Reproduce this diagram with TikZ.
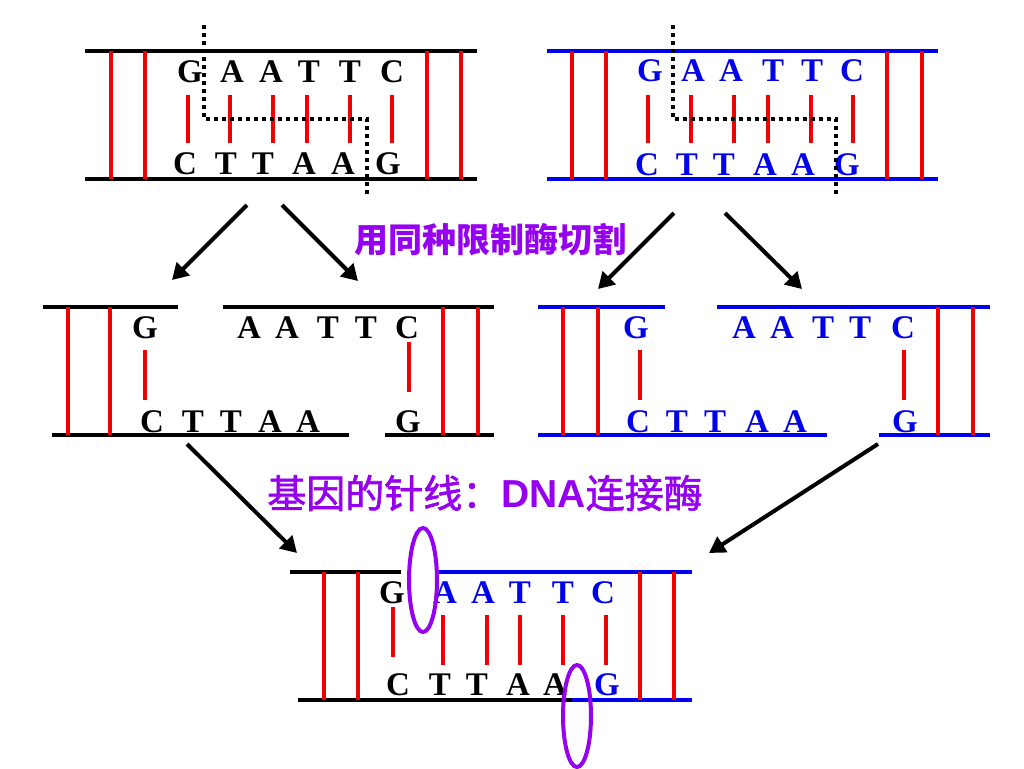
\documentclass[tikz,border=0pt]{standalone}
\usepackage{fontspec}
\setmainfont{Liberation Serif}
\newfontfamily\cjk{Noto Sans CJK SC}
\newfontfamily\cjkmed{Noto Sans CJK SC}[FakeBold=1.6]
\newfontfamily\arialf{Liberation Sans}
\usetikzlibrary{arrows.meta}
\definecolor{dnared}{RGB}{238,0,0}
\definecolor{dnablue}{RGB}{0,0,235}
\definecolor{lblpurple}{RGB}{150,0,240}
\tikzset{
  strand/.style={line width=2pt},
  rung/.style={dnared, line width=2pt},
  basech/.style={font=\fontsize{16.5}{17}\selectfont\bfseries, inner sep=0pt},
  cutline/.style={line width=2pt, dash pattern=on 2pt off 2pt},
  arr/.style={line width=2pt, -{Triangle[length=8pt,width=9pt]}},
  lig/.style={lblpurple, line width=2pt},
  lbl/.style={text=lblpurple, inner sep=0pt},
}
\begin{document}
\begin{tikzpicture}[x=0.5pt,y=-0.5pt]
\useasboundingbox (0,0) rectangle (1024,768);

% ---------- Block 1 (black, top left) ----------
\draw[strand] (85,51) -- (477,51);
\draw[strand] (85,179) -- (477,179);
\foreach \x in {111,145,427,461} \draw[rung] (\x,51) -- (\x,179);
\foreach \x in {188,230,273,307,350,392} \draw[rung] (\x,95) -- (\x,143);
\foreach \x/\l [count=\i] in {190/G,232/A,271/A,309/T,350/T,392/C}
  \node[basech] (bA\i) at (\x,72) {\l};
\foreach \x/\l [count=\i] in {185/C,226/T,263/T,304/A,343/A,388/G}
  \node[basech] (bB\i) at (\x,164) {\l};
\draw[cutline] (204,25) -- (204,119) -- (367,119) -- (367,195);

% ---------- Block 2 (blue, top right) ----------
\draw[strand,dnablue] (547,51) -- (938,51);
\draw[strand,dnablue] (547,179) -- (938,179);
\foreach \x in {572,606,887,922} \draw[rung] (\x,51) -- (\x,179);
\foreach \x in {648,691,734,768,811,853} \draw[rung] (\x,95) -- (\x,143);
\foreach \x/\l [count=\i] in {650/G,693/A,731/A,773/T,812/T,852/C}
  \node[basech,text=dnablue] (cA\i) at (\x,71) {\l};
\foreach \x/\l [count=\i] in {647/C,687/T,724/T,765/A,803/A,847/G}
  \node[basech,text=dnablue] (cB\i) at (\x,165) {\l};
\draw[cutline] (673,25) -- (673,119) -- (836,119) -- (836,195);

% ---------- label 1 ----------
\node[lbl,font=\cjk\bfseries\fontsize{17}{18}\selectfont] (cutlabel) at (490,240) {用同种限制酶切割};

% ---------- Block 3 (black, cut) ----------
\draw[strand] (43,307) -- (178,307);
\draw[strand] (223,307) -- (494,307);
\draw[strand] (52,435) -- (349,435);
\draw[strand] (385,435) -- (494,435);
\foreach \x in {68,110,443,478} \draw[rung] (\x,307) -- (\x,435);
\draw[rung] (145,350) -- (145,400);
\draw[rung] (409,342) -- (409,392);
\foreach \x/\l [count=\i] in {145/G,249/A,287/A,328/T,366/T,407/C}
  \node[basech] (dA\i) at (\x,328) {\l};
\foreach \x/\l [count=\i] in {152/C,193/T,231/T,270/A,308/A,408/G}
  \node[basech] (dB\i) at (\x,422) {\l};

% ---------- Block 4 (blue, cut) ----------
\draw[strand,dnablue] (538,307) -- (665,307);
\draw[strand,dnablue] (717,307) -- (990,307);
\draw[strand,dnablue] (538,435) -- (827,435);
\draw[strand,dnablue] (879,435) -- (990,435);
\foreach \x in {563,598,938,973} \draw[rung] (\x,307) -- (\x,435);
\draw[rung] (640,350) -- (640,400);
\draw[rung] (904,350) -- (904,400);
\foreach \x/\l [count=\i] in {636/G,744/A,782/A,823/T,860/T,903/C}
  \node[basech,text=dnablue] (eA\i) at (\x,328) {\l};
\foreach \x/\l [count=\i] in {638/C,677/T,715/T,757/A,795/A,905/G}
  \node[basech,text=dnablue] (eB\i) at (\x,422) {\l};

% ---------- label 2 ----------
\node[lbl,font=\fontsize{19.5}{20}\selectfont] (liglabel) at (485,493)
  {{\cjkmed 基因的针线：}{\arialf\bfseries DNA}{\cjkmed 连接酶}};

% ---------- Block 5 (joined) ----------
\draw[strand] (290,572) -- (401,572);
\draw[strand,dnablue] (437,572) -- (692,572);
\draw[strand] (298,700) -- (572,700);
\draw[strand,dnablue] (572,700) -- (692,700);
\foreach \x in {324,358,640,674} \draw[rung] (\x,572) -- (\x,700);
\draw[rung] (393,607) -- (393,657);
\foreach \x in {443,487,520,563,606} \draw[rung] (\x,615) -- (\x,665);
\node[basech] (fA1) at (392,593) {G};
\foreach \x/\l [count=\i from 2] in {445/A,483/A,520/T,563/T,603/C}
  \node[basech,text=dnablue] (fA\i) at (\x,593) {\l};
\foreach \x/\l [count=\i] in {398/C,440/T,477/T,518/A,555/A}
  \node[basech] (fB\i) at (\x,685) {\l};
\node[basech,text=dnablue] (fB6) at (607,685) {G};
\draw[lig] (423,580) ellipse [x radius=14, y radius=52];
\draw[lig] (577,716) ellipse [x radius=14, y radius=51];

% ---------- arrows ----------
\coordinate (a1s) at (247,205); \coordinate (a1e) at (172,280);
\coordinate (a2s) at (282,205); \coordinate (a2e) at (358,281);
\coordinate (a3s) at (674,213); \coordinate (a3e) at (598,289);
\coordinate (a4s) at (725,213); \coordinate (a4e) at (802,289);
\coordinate (a5s) at (187,444); \coordinate (a5e) at (297,553);
\coordinate (a6s) at (878,444); \coordinate (a6e) at (709,553);
\foreach \i in {1,...,6} \draw[arr] (a\i s) -- (a\i e);
\end{tikzpicture}
\end{document}
